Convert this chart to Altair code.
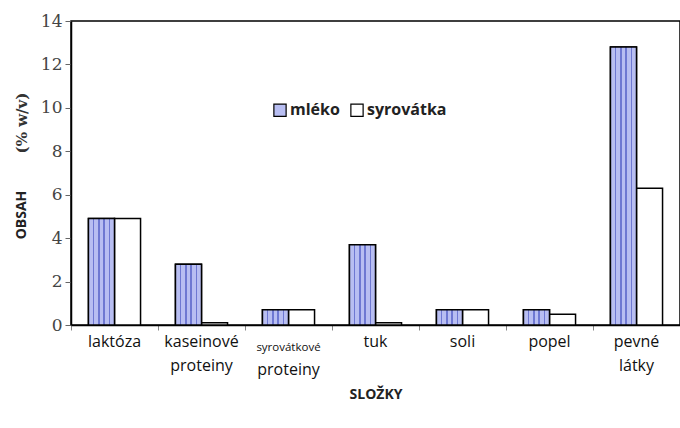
import altair as alt
import pandas as pd

categories = ["laktóza", "kaseinové|proteiny", "syrovátkové|proteiny", "tuk", "soli", "popel", "pevné|látky"]
series = ["mléko", "syrovátka"]
mleko = [4.9, 2.8, 0.7, 3.7, 0.7, 0.7, 12.8]
syrovatka = [4.9, 0.1, 0.7, 0.1, 0.7, 0.5, 6.3]
y_ticks = [0, 2, 4, 6, 8, 10, 12, 14]
special_cat = "syrovátkové|proteiny"
special_line1 = "syrovátkové"
special_line2 = "proteiny"

rows = []
for c, m, s in zip(categories, mleko, syrovatka):
    rows.append({"cat": c, "series": series[0], "value": m})
    rows.append({"cat": c, "series": series[1], "value": s})
df = pd.DataFrame(rows)

SERIF = "DejaVu Serif"
SANS = "Open Sans"

base_col = "#B8BEF2"
line_col = "#6E78D2"
stops = [{"offset": 0, "color": base_col}]
for o in [0.2, 0.4, 0.6, 0.8]:
    stops += [
        {"offset": o - 0.025, "color": base_col},
        {"offset": o - 0.025, "color": line_col},
        {"offset": o + 0.025, "color": line_col},
        {"offset": o + 0.025, "color": base_col},
    ]
stops.append({"offset": 1, "color": base_col})
stripe = alt.Gradient(gradient="linear", x1=0, x2=1, y1=0, y2=0, stops=stops)

x_enc = alt.X(
    "cat:N",
    sort=categories,
    scale=alt.Scale(paddingInner=0, paddingOuter=0),
    axis=alt.Axis(
        title="SLOŽKY",
        labelAngle=0,
        labelExpr=f"datum.label == '{special_cat}' ? '' : split(datum.label, '|')",
        labelFont=SANS,
        labelFontSize=16,
        labelColor="#111",
        labelPadding=3,
        labelBaseline="top",
        labelLineHeight=24,
        bandPosition=0,
        tickSize=5,
        tickColor="#888",
        domainColor="black",
        domainWidth=1.5,
        titleFont=SANS,
        titleFontSize=14,
        titleFontWeight="bold",
        titleColor="#222",
        titlePadding=14,
    ),
)
xoff = alt.XOffset("series:N", scale=alt.Scale(domain=series, paddingOuter=0.67, paddingInner=0))
y_enc = alt.Y(
    "value:Q",
    scale=alt.Scale(domain=[0, 14], nice=False),
    axis=alt.Axis(
        title=None,
        values=y_ticks,
        grid=False,
        labelFont=SERIF,
        labelFontSize=17,
        labelColor="#444",
        tickSize=6,
        tickColor="#666",
        domainColor="black",
        domainWidth=1.5,
        labelPadding=3,
    ),
)

bars = alt.Chart(df).mark_bar(stroke="black", strokeWidth=1.5).encode(
    x=x_enc,
    xOffset=xoff,
    y=y_enc,
    color=alt.Color(
        "series:N",
        scale=alt.Scale(domain=series, range=[base_col, "#FFFFFF"]),
        legend=alt.Legend(
            title=None,
            orient="none",
            direction="horizontal",
            legendX=201,
            legendY=81,
            symbolType="square",
            symbolSize=150,
            symbolStrokeColor="black",
            symbolStrokeWidth=1.2,
            labelFont=SANS,
            labelFontSize=16,
            labelFontWeight="bold",
            labelColor="#222",
            columnPadding=8,
            labelOffset=2,
        ),
    ),
)

stripes = alt.Chart(df).transform_filter(alt.datum.series == series[0]).mark_bar(
    fill=stripe, stroke="black", strokeWidth=1.5
).encode(x=x_enc, xOffset=xoff, y=y_enc)

lab1 = alt.Chart(pd.DataFrame({"cat": [special_cat], "t": [special_line1]})).mark_text(
    font=SANS, fontSize=11.5, color="#111", baseline="middle"
).encode(x=x_enc, text="t:N", y=alt.value(327))
lab2 = alt.Chart(pd.DataFrame({"cat": [special_cat], "t": [special_line2]})).mark_text(
    font=SANS, fontSize=16, color="#111", baseline="middle"
).encode(x=x_enc, text="t:N", y=alt.value(349))

t1 = alt.Chart(pd.DataFrame({"t": ["OBSAH"]})).mark_text(
    angle=270, font=SANS, fontWeight="bold", fontSize=14, color="#222"
).encode(text="t:N", x=alt.value(-49), y=alt.value(194))
t2 = alt.Chart(pd.DataFrame({"t": ["(% w/v)"]})).mark_text(
    angle=270, font=SERIF, fontWeight="bold", fontSize=15, color="#333"
).encode(text="t:N", x=alt.value(-49), y=alt.value(102))

chart = alt.layer(bars, stripes, lab1, lab2, t1, t2).properties(
    width=609,
    height=304,
    autosize=alt.AutoSizeParams(type="none"),
    padding={"left": 71, "top": 21, "right": 0, "bottom": 103},
).configure(
    background="white"
).configure_view(
    stroke="black", strokeWidth=1.5
).configure_axisY(
    labelFont=SERIF,
    labelFontSize=17,
    labelColor="#444",
)

chart.save("out.html", embed_options={"renderer": "svg", "actions": False})
